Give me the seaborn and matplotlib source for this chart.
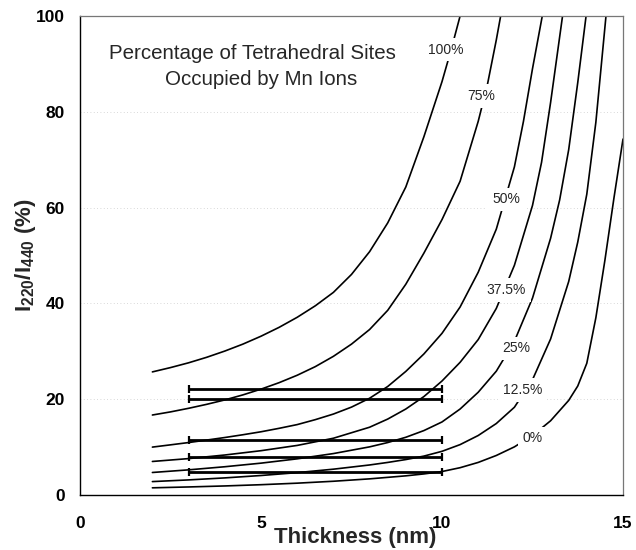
import matplotlib
matplotlib.use("Agg")
import matplotlib.pyplot as plt
import seaborn as sns
import pandas as pd

sns.set_style("white")
plt.rcParams['font.family'] = ['Liberation Sans', 'DejaVu Sans']
plt.rcParams['mathtext.fontset'] = 'custom'
plt.rcParams['mathtext.rm'] = 'Liberation Sans:bold'
plt.rcParams['mathtext.bf'] = 'Liberation Sans:bold'
plt.rcParams['mathtext.default'] = 'bf'

# ---- curve data (thickness nm, I220/I440 %) ----
x_100 = [2, 2.5, 3, 3.5, 4, 4.5, 5, 5.5, 6, 6.5, 7, 7.5, 8, 8.5, 9, 9.5, 10, 10.25, 10.5]
y_100 = [25.7, 26.6, 27.6, 28.75, 30.05, 31.5, 33.15, 35.0, 37.1, 39.5, 42.3, 46.05,
         50.8, 56.8, 64.3, 74.8, 86.3, 92.9, 100]

x_75 = [2, 2.5, 3, 3.5, 4, 4.5, 5, 5.5, 6, 6.5, 7, 7.5, 8, 8.5, 9, 9.5, 10, 10.5,
        11, 11.25, 11.5, 11.62]
y_75 = [16.7, 17.35, 18.1, 18.93, 19.85, 20.9, 22.1, 23.45, 25.0, 26.8, 28.95, 31.5,
        34.55, 38.55, 44.0, 50.5, 57.5, 65.5, 78.0, 85.5, 95.0, 100]

x_50 = [2, 2.5, 3, 3.5, 4, 4.5, 5, 5.5, 6, 6.5, 7, 7.5, 8, 8.5, 9, 9.5, 10, 10.5,
        11, 11.5, 12, 12.25, 12.5, 12.77]
y_50 = [10.0, 10.47, 10.95, 11.47, 12.0, 12.58, 13.2, 13.92, 14.7, 15.73, 16.9, 18.35,
        20.2, 22.65, 25.8, 29.45, 33.75, 39.25, 46.5, 55.5, 68.5, 78.0, 89.0, 100]

x_375 = [2, 3, 4, 5, 6, 7, 8, 8.5, 9, 9.5, 10, 10.5, 11, 11.5, 12, 12.5, 12.75, 13, 13.33]
y_375 = [7.0, 7.6, 8.35, 9.25, 10.35, 11.85, 14.15, 15.85, 17.95, 20.55, 23.8, 27.7,
         32.45, 38.95, 47.95, 60.45, 69.45, 81.95, 100]

x_25 = [2, 3, 4, 5, 6, 7, 8, 8.5, 9, 9.5, 10, 10.5, 11, 11.5, 12, 12.5, 13, 13.25,
        13.5, 13.75, 13.98]
y_25 = [4.7, 5.25, 5.9, 6.65, 7.55, 8.65, 10.05, 10.95, 12.05, 13.45, 15.25, 17.95,
        21.45, 25.85, 32.1, 41.1, 53.6, 61.6, 72.1, 86.1, 100]

x_125 = [2, 3, 4, 5, 6, 7, 8, 8.5, 9, 9.5, 10, 10.5, 11, 11.5, 12, 12.5, 13, 13.5,
         13.75, 14, 14.25, 14.53]
y_125 = [2.8, 3.15, 3.57, 4.07, 4.67, 5.39, 6.27, 6.8, 7.4, 8.12, 9.12, 10.52, 12.42,
         14.92, 18.32, 24.07, 32.57, 44.57, 52.8, 62.8, 77.8, 100]

x_0 = [2, 3, 4, 5, 6, 7, 8, 9, 9.5, 10, 10.5, 11, 11.5, 12, 12.5, 13, 13.5, 13.75,
       14, 14.25, 14.5, 14.75, 15]
y_0 = [1.5, 1.68, 1.89, 2.15, 2.47, 2.87, 3.37, 4.0, 4.4, 4.9, 5.7, 6.8, 8.25, 10.05,
       12.4, 15.5, 19.75, 22.75, 27.5, 37.0, 49.0, 62.0, 74.3]

curve_names = ["100%", "75%", "50%", "37.5%", "25%", "12.5%", "0%"]
curve_x = [x_100, x_75, x_50, x_375, x_25, x_125, x_0]
curve_y = [y_100, y_75, y_50, y_375, y_25, y_125, y_0]

# label positions on the curves
label_x = [10.09, 11.08, 11.77, 11.77, 12.05, 12.23, 12.5]
label_y = [93.0, 83.3, 61.7, 42.8, 30.6, 21.9, 11.8]

# ---- measured data with thickness range (3-10 nm) ----
meas_y = [22.1, 20.0, 11.5, 7.9, 4.7]
meas_xmin = 3
meas_xmax = 10

x_ticks = [0, 5, 10, 15]
y_ticks = [0, 20, 40, 60, 80, 100]

title_lines = ["Percentage of Tetrahedral Sites", "Occupied by Mn Ions"]

frames = []
for name, xs, ys in zip(curve_names, curve_x, curve_y):
    frames.append(pd.DataFrame({"curve": name, "x": xs, "y": ys}))
df = pd.concat(frames, ignore_index=True)

fig = plt.figure(figsize=(6.36, 5.5), dpi=100)
ax = fig.add_axes([80 / 636, 1 - 495 / 550, 543 / 636, 479 / 550])

# faint dotted grid
for yv in y_ticks[1:-1]:
    ax.axhline(yv, color="#cccccc", lw=0.6, ls=(0, (1, 3)), zorder=0)

sns.lineplot(data=df, x="x", y="y", units="curve", estimator=None, sort=False,
             color="black", lw=1.2, ax=ax, legend=False, zorder=2)

for yv in meas_y:
    xc = (meas_xmin + meas_xmax) / 2
    ax.errorbar(xc, yv, xerr=(meas_xmax - meas_xmin) / 2, fmt="none",
                ecolor="black", elinewidth=2.0, capsize=2.8, capthick=1.6, zorder=3)

for name, lx, ly in zip(curve_names, label_x, label_y):
    ax.text(lx, ly, name, ha="center", va="center", fontsize=10,
            bbox=dict(facecolor="white", edgecolor="none", pad=3.5), zorder=4)

ax.text(4.765, 92.1, title_lines[0], ha="center", va="center", fontsize=14.8, zorder=4)
ax.text(5.01, 86.7, title_lines[1], ha="center", va="center", fontsize=14.8, zorder=4)

ax.set_xlim(0, 15)
ax.set_ylim(0, 100)
ax.set_xticks(x_ticks)
ax.set_yticks(y_ticks)
ax.set_xticklabels([str(v) for v in x_ticks], fontsize=12.5, fontweight="bold")
ax.set_yticklabels([str(v) for v in y_ticks], fontsize=12.5, fontweight="bold")
ax.tick_params(axis="x", direction="in", length=5, width=0.8, pad=15, colors="black")
ax.tick_params(axis="y", direction="out", length=3, width=0.8, pad=8, colors="black")

ax.set_xlabel("Thickness (nm)", fontsize=16, fontweight="bold")
ax.xaxis.set_label_coords(0.506, -0.066)
ax.set_ylabel(r"I$_{220}$/I$_{440}$ (%)", fontsize=16, fontweight="bold")
ax.yaxis.set_label_coords(-0.078, 0.50)

for side in ["left", "bottom"]:
    ax.spines[side].set_color("black")
    ax.spines[side].set_linewidth(1.0)
for side in ["top", "right"]:
    ax.spines[side].set_color("#777777")
    ax.spines[side].set_linewidth(0.9)
    ax.spines[side].set_visible(True)

fig.savefig("out.png", dpi=100)
